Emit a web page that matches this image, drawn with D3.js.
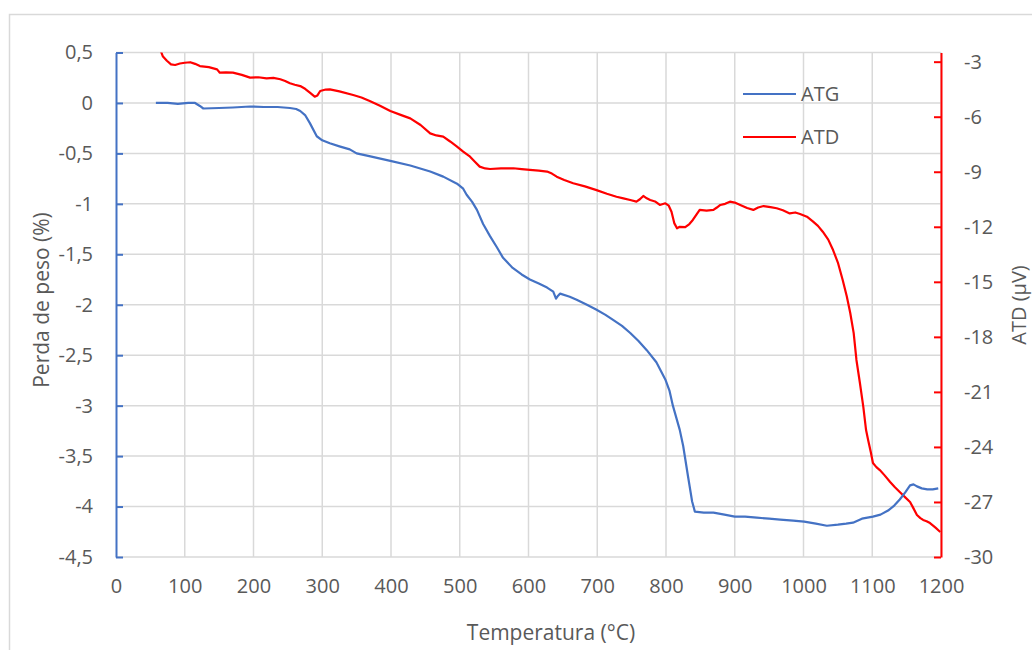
<!DOCTYPE html>
<html>
<head>
<meta charset="utf-8">
<script src="https://cdn.jsdelivr.net/npm/d3@7"></script>
<style>
  html, body { margin: 0; padding: 0; background: #fff; }
  svg { display: block; font-family: "Open Sans", sans-serif; }
</style>
</head>
<body>
<svg id="chart" width="1032" height="650"></svg>
<script>
// Temperature ticks and axis ranges
const xTicks = [0, 100, 200, 300, 400, 500, 600, 700, 800, 900, 1000, 1100, 1200];
const leftTicks = [0.5, 0, -0.5, -1, -1.5, -2, -2.5, -3, -3.5, -4, -4.5];
const rightTicks = [-3, -6, -9, -12, -15, -18, -21, -24, -27, -30];

// ATG: weight loss (%) vs temperature (°C)
const atgTemp = [58, 75, 90, 105, 115, 122, 127, 150, 170, 195, 215, 235, 253, 262, 268, 275, 282, 292, 300, 311, 325, 340,
  350, 370, 399, 428, 457, 476, 496, 505, 510, 518, 525, 534, 544, 554, 563, 577, 590, 602, 615, 627, 636, 640, 643, 646,
  660, 670, 685, 699, 712, 723, 736, 748, 760, 772, 786, 799, 805, 810, 820, 825, 832, 838, 842, 855, 869, 885, 900,
  915, 932, 950, 966, 985, 1001, 1018, 1034, 1050, 1062, 1072, 1085, 1101, 1112, 1123, 1132, 1140, 1148, 1155, 1160,
  1165, 1172, 1180, 1188, 1196];
const atgVal = [0.0, 0.0, -0.01, 0.0, 0.0, -0.03, -0.055, -0.05, -0.045, -0.035, -0.04, -0.04, -0.05, -0.06, -0.08, -0.12,
  -0.2, -0.33, -0.37, -0.4, -0.43, -0.46, -0.5, -0.53, -0.574, -0.62, -0.68, -0.73, -0.8, -0.85, -0.91, -0.98, -1.06,
  -1.2, -1.32, -1.43, -1.535, -1.635, -1.7, -1.75, -1.79, -1.83, -1.87, -1.94, -1.91, -1.89, -1.92, -1.95, -2.0, -2.05,
  -2.1, -2.15, -2.21, -2.28, -2.36, -2.45, -2.57, -2.74, -2.85, -3.0, -3.24, -3.4, -3.7, -3.95, -4.05, -4.06, -4.06,
  -4.08, -4.1, -4.1, -4.11, -4.12, -4.13, -4.14, -4.15, -4.17, -4.19, -4.18, -4.17, -4.16, -4.12, -4.1, -4.08, -4.04,
  -3.99, -3.93, -3.86, -3.79, -3.78, -3.8, -3.82, -3.83, -3.83, -3.82];

// ATD: thermal signal (µV) vs temperature (°C)
const atdTemp = [64, 68, 74, 80, 86, 93, 100, 108, 115, 122, 135, 147, 151, 160, 170, 183, 195, 207, 219, 229, 239, 246,
  253, 260, 268, 275, 282, 289, 293, 297, 305, 311, 325, 345, 357, 369, 384, 399, 414, 428, 443, 457, 466, 476, 486,
  496, 505, 515, 522, 529, 537, 544, 560, 578, 590, 602, 615, 627, 634, 641, 652, 665, 682, 699, 714, 728, 738, 748,
  757, 762, 767, 772, 777, 784, 791, 799, 804, 808, 812, 816, 820, 828, 834, 839, 845, 849, 859, 869, 874, 879, 886,
  893, 900, 908, 918, 927, 934, 942, 952, 961, 970, 980, 988, 995, 1005, 1014, 1021, 1028, 1036, 1043, 1050, 1057,
  1063, 1068, 1073, 1077, 1082, 1087, 1091, 1094, 1098, 1101, 1106, 1111, 1118, 1126, 1133, 1140, 1148, 1155, 1160,
  1165, 1170, 1174, 1179, 1184, 1192, 1199];
const atdVal = [-2.3, -2.7, -2.95, -3.15, -3.18, -3.1, -3.06, -3.03, -3.12, -3.24, -3.3, -3.42, -3.6, -3.58, -3.6, -3.72,
  -3.87, -3.85, -3.91, -3.88, -3.96, -4.05, -4.18, -4.26, -4.33, -4.48, -4.69, -4.91, -4.84, -4.6, -4.52, -4.51, -4.62,
  -4.82, -4.95, -5.14, -5.4, -5.69, -5.9, -6.09, -6.45, -6.91, -7.02, -7.09, -7.35, -7.63, -7.9, -8.18, -8.45, -8.72,
  -8.82, -8.85, -8.82, -8.81, -8.86, -8.9, -8.94, -8.99, -9.1, -9.27, -9.45, -9.63, -9.8, -10.0, -10.2, -10.36, -10.45,
  -10.54, -10.63, -10.5, -10.32, -10.45, -10.54, -10.62, -10.81, -10.72, -10.85, -11.18, -11.8, -12.08, -12.0, -12.02,
  -11.85, -11.63, -11.3, -11.08, -11.12, -11.08, -10.95, -10.81, -10.75, -10.63, -10.68, -10.81, -10.98, -11.08,
  -10.95, -10.87, -10.93, -10.99, -11.1, -11.27, -11.22, -11.3, -11.45, -11.72, -11.95, -12.27, -12.7, -13.27, -13.95,
  -14.9, -15.8, -16.7, -17.8, -19.26, -20.5, -21.82, -23.08, -23.62, -24.3, -24.88, -25.1, -25.26, -25.55, -25.91,
  -26.2, -26.46, -26.75, -27.0, -27.35, -27.71, -27.88, -27.98, -28.05, -28.15, -28.4, -28.64];

const svg = d3.select("#chart");
const plot = { left: 116, right: 941, top: 52.5, bottom: 557 };
const textColor = "#595959";
const gridColor = "#d9d9d9";
const blue = "#4472C4";
const red = "#FF0000";

// Chart frame
svg.append("rect")
  .attr("x", 9.5).attr("y", 14.5)
  .attr("width", 1040).attr("height", 660)
  .attr("fill", "#fff").attr("stroke", gridColor).attr("stroke-width", 1.5);

const x = d3.scaleLinear().domain([0, 1200]).range([plot.left, plot.right]);
const yL = d3.scaleLinear().domain([-4.5, 0.5]).range([plot.bottom, plot.top]);
const yR = d3.scaleLinear().domain([-30, -2.5]).range([plot.bottom, plot.top]);

// Grid
const grid = svg.append("g");
grid.selectAll("line.v").data(xTicks.slice(1)).join("line")
  .attr("x1", d => x(d)).attr("x2", d => x(d))
  .attr("y1", plot.top).attr("y2", plot.bottom)
  .attr("stroke", gridColor).attr("stroke-width", 1.5);
grid.selectAll("line.h").data(leftTicks).join("line")
  .attr("x1", plot.left).attr("x2", plot.right)
  .attr("y1", d => yL(d)).attr("y2", d => yL(d))
  .attr("stroke", gridColor).attr("stroke-width", 1.5);

// Plain hyphen-minus and decimal comma for tick labels
const fmt = d => String(d).replace(".", ",");

// Bottom axis labels
const xAxis = svg.append("g")
  .attr("transform", `translate(0,${plot.bottom})`)
  .call(d3.axisBottom(x).tickValues(xTicks).tickSize(0).tickPadding(22).tickFormat(fmt));
xAxis.select(".domain").remove();
xAxis.selectAll("text").attr("fill", textColor).style("font-size", "20px").style("font-family", "Open Sans");

// Left axis (ATG)
const yAxisL = svg.append("g")
  .attr("transform", `translate(${plot.left},0)`)
  .call(d3.axisLeft(yL).tickValues(leftTicks).tickSize(0).tickPadding(23).tickFormat(fmt));
yAxisL.select(".domain").attr("stroke", blue).attr("stroke-width", 2);
yAxisL.selectAll("text").attr("fill", textColor).style("font-size", "20px").style("font-family", "Open Sans");
yAxisL.selectAll(".tick").append("line")
  .attr("x1", 0).attr("x2", 7).attr("stroke", blue).attr("stroke-width", 2);

// Right axis (ATD)
const yAxisR = svg.append("g")
  .attr("transform", `translate(${plot.right},0)`)
  .call(d3.axisRight(yR).tickValues(rightTicks).tickSize(0).tickPadding(23).tickFormat(fmt));
yAxisR.select(".domain").attr("stroke", red).attr("stroke-width", 2);
yAxisR.selectAll("text").attr("fill", textColor).style("font-size", "20px").style("font-family", "Open Sans");
yAxisR.selectAll(".tick").append("line")
  .attr("x1", 0).attr("x2", -7).attr("stroke", red).attr("stroke-width", 2);

// Clip series to the plotting area
svg.append("clipPath").attr("id", "plotClip")
  .append("rect").attr("x", plot.left).attr("y", plot.top)
  .attr("width", plot.right - plot.left).attr("height", plot.bottom - plot.top);

const atg = atgTemp.map((t, i) => [t, atgVal[i]]);
const atd = atdTemp.map((t, i) => [t, atdVal[i]]);

const series = svg.append("g").attr("clip-path", "url(#plotClip)");
series.append("path").datum(atd)
  .attr("fill", "none").attr("stroke", red).attr("stroke-width", 2.2)
  .attr("stroke-linejoin", "round")
  .attr("d", d3.line().x(d => x(d[0])).y(d => yR(d[1])));
series.append("path").datum(atg)
  .attr("fill", "none").attr("stroke", blue).attr("stroke-width", 2.2)
  .attr("stroke-linejoin", "round")
  .attr("d", d3.line().x(d => x(d[0])).y(d => yL(d[1])));

// Legend
const legend = [{ name: "ATG", color: blue, y: 94 }, { name: "ATD", color: red, y: 137 }];
const lg = svg.append("g");
lg.selectAll("line").data(legend).join("line")
  .attr("x1", 743).attr("x2", 796)
  .attr("y1", d => d.y).attr("y2", d => d.y)
  .attr("stroke", d => d.color).attr("stroke-width", 2);
lg.selectAll("text").data(legend).join("text")
  .attr("x", 801).attr("y", d => d.y).attr("dy", "0.35em")
  .attr("fill", textColor).style("font-size", "20px")
  .text(d => d.name);

// Axis titles
svg.append("text")
  .attr("x", 551).attr("y", 633).attr("dy", "0.35em")
  .attr("text-anchor", "middle").attr("fill", textColor).style("font-size", "21px")
  .text("Temperatura (°C)");
svg.append("text")
  .attr("transform", "translate(42,300) rotate(-90)").attr("dy", "0.35em")
  .attr("text-anchor", "middle").attr("fill", textColor).style("font-size", "21px")
  .text("Perda de peso (%)");
svg.append("text")
  .attr("transform", "translate(1019,305) rotate(-90)").attr("dy", "0.35em")
  .attr("text-anchor", "middle").attr("fill", textColor).style("font-size", "20px")
  .text("ATD (µV)");
</script>
</body>
</html>
